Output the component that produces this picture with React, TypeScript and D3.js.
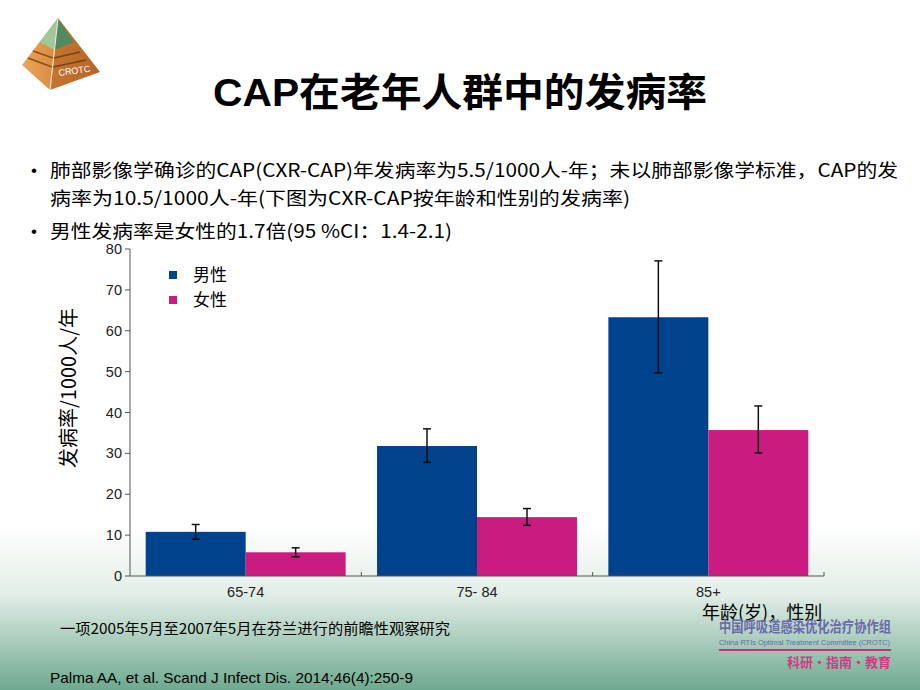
import React from "react";
import * as d3 from "d3";

const W = 920;
const H = 690;

const ageGroups = ["65-74", "75- 84", "85+"];
const sexes = ["男性", "女性"];
const maleRate = [10.8, 31.8, 63.3];
const maleLow = [9.0, 27.8, 49.7];
const maleHigh = [12.6, 36.0, 77.1];
const femaleRate = [5.8, 14.4, 35.7];
const femaleLow = [4.7, 12.4, 30.1];
const femaleHigh = [6.9, 16.5, 41.6];
const yTicks = [0, 10, 20, 30, 40, 50, 60, 70, 80];

const colors: Record<string, string> = { "男性": "#00428c", "女性": "#c91b80" };

const bullets = [
  "肺部影像学确诊的CAP(CXR-CAP)年发病率为5.5/1000人-年；未以肺部影像学标准，CAP的发",
  "病率为10.5/1000人-年(下图为CXR-CAP按年龄和性别的发病率)",
  "男性发病率是女性的1.7倍(95 %CI：1.4-2.1)",
];

const FONT = "'Liberation Sans', 'Noto Sans CJK SC', sans-serif";
const CJK = "'Noto Sans CJK SC', 'Liberation Sans', sans-serif";

const plot = { left: 130, right: 824, top: 249, bottom: 576 };

export default function App() {
  const x = d3.scaleBand<string>().domain(ageGroups).range([plot.left, plot.right]);
  const xs = d3
    .scaleBand<string>()
    .domain(sexes)
    .range([0, x.bandwidth()])
    .paddingInner(0)
    .paddingOuter(0.157);
  const y = d3.scaleLinear().domain([0, 80]).range([plot.bottom, plot.top]);

  const data = ageGroups.flatMap((g, i) => [
    { g, sex: "男性", v: maleRate[i], lo: maleLow[i], hi: maleHigh[i] },
    { g, sex: "女性", v: femaleRate[i], lo: femaleLow[i], hi: femaleHigh[i] },
  ]);

  return (
    <svg
      width={W}
      height={H}
      viewBox={`0 0 ${W} ${H}`}
      style={{ position: "absolute", left: 0, top: 0 }}
    >
      <defs>
        <linearGradient id="bg" x1="0" y1="0" x2="0" y2="1">
          <stop offset="0" stopColor="#ffffff" />
          <stop offset="0.76" stopColor="#ffffff" />
          <stop offset="0.86" stopColor="#e3eee8" />
          <stop offset="1" stopColor="#6ea98f" />
        </linearGradient>
        <linearGradient id="pyrL" x1="0" y1="0" x2="1" y2="0">
          <stop offset="0" stopColor="#e9a65a" />
          <stop offset="1" stopColor="#d9893c" />
        </linearGradient>
        <linearGradient id="pyrR" x1="0" y1="0" x2="1" y2="0">
          <stop offset="0" stopColor="#c67530" />
          <stop offset="1" stopColor="#b4652a" />
        </linearGradient>
      </defs>
      <rect x={0} y={0} width={W} height={H} fill="url(#bg)" />

      {/* top-left logo */}
      <g>
        <polygon points="58,18 22,65 50,90" fill="url(#pyrL)" />
        <polygon points="58,18 50,90 100,72" fill="url(#pyrR)" />
        <polygon points="58,18 40,42 54,50" fill="#9fc89a" />
        <polygon points="58,18 54,50 74,42" fill="#4f8a62" />
        <line x1={33} y1={51} x2={53} y2={58} stroke="#8a4d1c" strokeWidth={1.5} />
        <line x1={28} y1={58} x2={52} y2={67} stroke="#8a4d1c" strokeWidth={1.5} />
        <line x1={54} y1={58} x2={80} y2={52} stroke="#7a4118" strokeWidth={1.5} />
        <line x1={53} y1={67} x2={86} y2={60} stroke="#7a4118" strokeWidth={1.5} />
        <line x1={58} y1={18} x2={50} y2={90} stroke="#f4e3c8" strokeWidth={1.2} />
        <text x={59} y={76} fontFamily={FONT} fontSize={9} fill="#ffffff" transform="rotate(-8 59 76)">
          CROTC
        </text>
      </g>

      <text
        x={213}
        y={106}
        fontFamily={FONT}
        fontWeight="bold"
        fontSize={39}
        fill="#000"
        textLength={494}
        lengthAdjust="spacingAndGlyphs"
      >
        CAP在老年人群中的发病率
      </text>

      {/* bullets */}
      <g fontFamily={CJK} fontSize={18.5} fill="#000">
        <text x={31} y={176} fontFamily={FONT} fontSize={17}>•</text>
        <text x={50} y={177} textLength={848} lengthAdjust="spacingAndGlyphs">{bullets[0]}</text>
        <text x={50} y={205} textLength={580} lengthAdjust="spacingAndGlyphs">{bullets[1]}</text>
        <text x={31} y={237} fontFamily={FONT} fontSize={17}>•</text>
        <text x={50} y={238} textLength={402} lengthAdjust="spacingAndGlyphs">{bullets[2]}</text>
      </g>

      {/* y axis */}
      <g fontFamily={FONT} fontSize={14.5} fill="#222">
        <line x1={plot.left} x2={plot.left} y1={plot.top} y2={plot.bottom} stroke="#555" />
        {yTicks.map((t) => (
          <g key={t}>
            <line x1={plot.left - 5} x2={plot.left} y1={y(t)} y2={y(t)} stroke="#555" />
            <text x={plot.left - 8} y={y(t)} dy="0.35em" textAnchor="end">
              {t}
            </text>
          </g>
        ))}
      </g>
      <text
        transform="translate(76, 388) rotate(-90)"
        textAnchor="middle"
        fontFamily={CJK}
        fontSize={20}
        fill="#000"
        textLength={160}
        lengthAdjust="spacingAndGlyphs"
      >
        发病率/1000人/年
      </text>

      {/* bars */}
      {data.map((d) => {
        const bx = (x(d.g) ?? 0) + (xs(d.sex) ?? 0);
        return (
          <rect
            key={d.g + d.sex}
            x={bx}
            y={y(d.v)}
            width={xs.bandwidth()}
            height={y(0) - y(d.v)}
            fill={colors[d.sex]}
          />
        );
      })}

      {/* error bars */}
      {data.map((d) => {
        const cx = (x(d.g) ?? 0) + (xs(d.sex) ?? 0) + xs.bandwidth() / 2;
        return (
          <g key={"e" + d.g + d.sex} stroke="#111" strokeWidth={1.5}>
            <line x1={cx} x2={cx} y1={y(d.hi)} y2={y(d.lo)} />
            <line x1={cx - 4} x2={cx + 4} y1={y(d.hi)} y2={y(d.hi)} />
            <line x1={cx - 4} x2={cx + 4} y1={y(d.lo)} y2={y(d.lo)} />
          </g>
        );
      })}

      {/* x axis */}
      <g fontFamily={FONT} fontSize={14.5} fill="#222">
        <line x1={plot.left} x2={plot.right} y1={plot.bottom} y2={plot.bottom} stroke="#555" />
        {ageGroups.map((g) => (
          <g key={g}>
            <line
              x1={(x(g) ?? 0) + x.bandwidth()}
              x2={(x(g) ?? 0) + x.bandwidth()}
              y1={plot.bottom}
              y2={plot.bottom - 4}
              stroke="#555"
            />
            <text x={(x(g) ?? 0) + x.bandwidth() / 2} y={597} textAnchor="middle">
              {g}
            </text>
          </g>
        ))}
      </g>
      <text x={702} y={619} fontFamily={CJK} fontSize={18} fill="#000">
        年龄(岁)，性别
      </text>

      {/* legend */}
      <g fontFamily={CJK} fontSize={17} fill="#000">
        {sexes.map((s, i) => (
          <g key={s} transform={`translate(169, ${271 + i * 25})`}>
            <rect x={0} y={0} width={8} height={8} fill={colors[s]} />
            <text x={24} y={4} dy="0.35em">
              {s}
            </text>
          </g>
        ))}
      </g>

      {/* footer */}
      <text x={60} y={634} fontFamily={CJK} fontSize={15} fill="#000" textLength={390} lengthAdjust="spacingAndGlyphs">
        一项2005年5月至2007年5月在芬兰进行的前瞻性观察研究
      </text>
      <text x={50} y={683} fontFamily={FONT} fontSize={15} fill="#000" textLength={363} lengthAdjust="spacingAndGlyphs">
        Palma AA, et al. Scand J Infect Dis. 2014;46(4):250-9
      </text>

      {/* bottom-right logo */}
      <g>
        <text
          transform="translate(719, 632) scale(1, 1.2)"
          fontFamily={CJK}
          fontSize={12.2}
          fontWeight="bold"
          fill="#6a6aa8"
          textLength={172}
          lengthAdjust="spacingAndGlyphs"
        >
          中国呼吸道感染优化治疗协作组
        </text>
        <text x={719} y={645} fontFamily={FONT} fontSize={7.5} fill="#6a6aa8" textLength={171} lengthAdjust="spacingAndGlyphs">
          China RTIs Optimal Treatment Committee (CROTC)
        </text>
        <line x1={719} x2={891} y1={650} y2={650} stroke="#c8307a" strokeWidth={2} />
        <text x={891} y={667} textAnchor="end" fontFamily={CJK} fontSize={13} fontWeight="bold" fill="#d03a86">
          科研・指南・教育
        </text>
      </g>
    </svg>
  );
}
